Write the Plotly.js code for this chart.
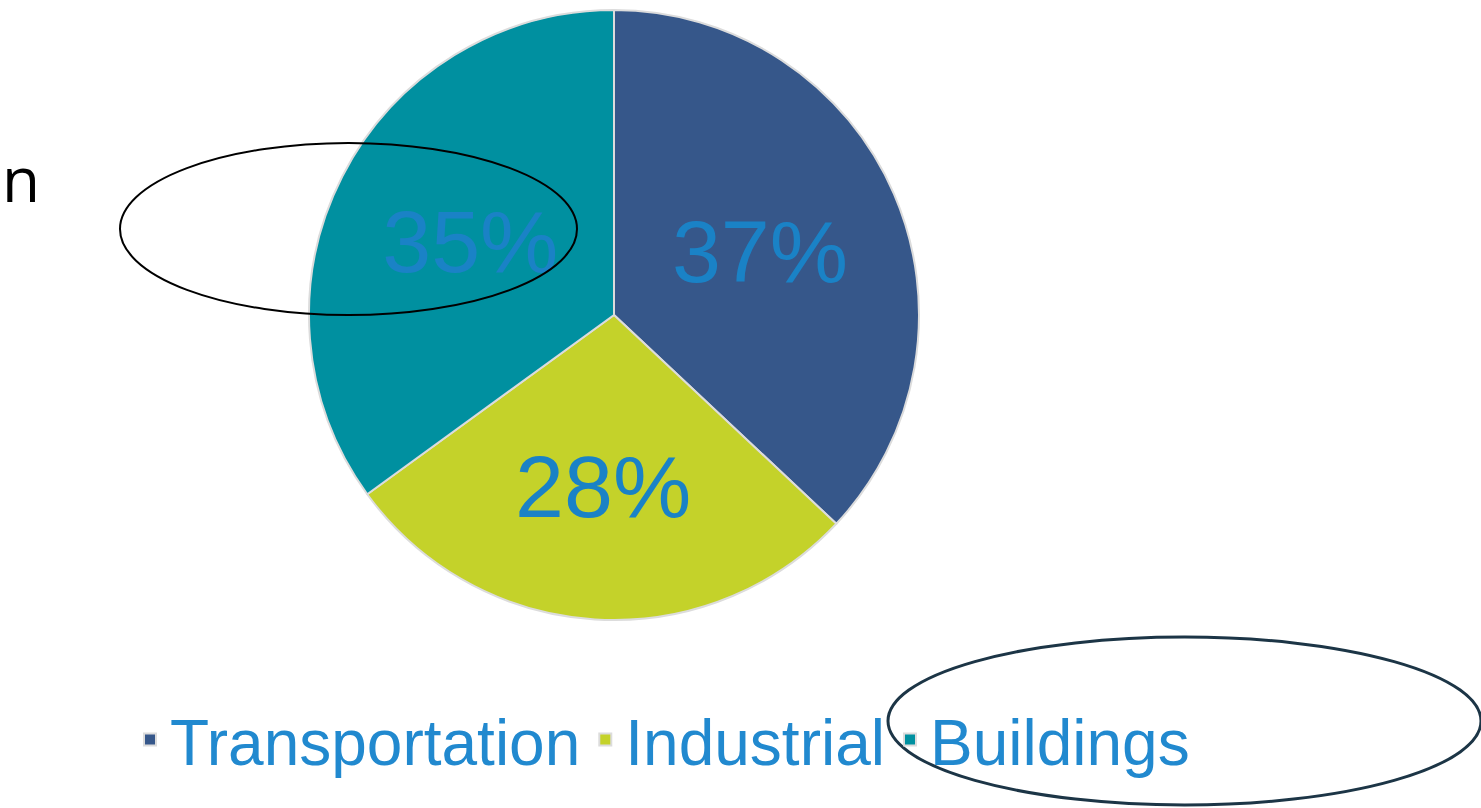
<!DOCTYPE html>
<html>
<head>
<meta charset="utf-8">
<script src="https://cdn.plot.ly/plotly-3.0.1.min.js"></script>
<style>html,body{margin:0;padding:0;background:#fff;}#chart{width:1481px;height:808px;}</style>
</head>
<body>
<div id="chart"></div>
<script>
const categories = ["Transportation", "Industrial", "Buildings"];
const shares = [37, 28, 35];
const sliceColors = ["#36578a", "#c4d22a", "#0090a0"];

const W = 1481, H = 808;
const px = (x) => x / W;
const py = (y) => 1 - y / H;

const trace = {
  type: "pie",
  labels: categories,
  values: shares,
  sort: false,
  direction: "clockwise",
  rotation: 0,
  textinfo: "percent",
  texttemplate: "%{percent:.0%}",
  textposition: "inside",
  insidetextorientation: "horizontal",
  insidetextfont: {family: "Liberation Sans, Arial, sans-serif", size: 88, color: "#1a82c6"},
  marker: {colors: sliceColors, line: {color: "#dcdcdc", width: 2}},
  domain: {x: [px(309), px(919)], y: [py(620), py(10)]},
  hoverinfo: "label+percent"
};

const layout = {
  width: W, height: H,
  margin: {l: 0, r: 0, t: 0, b: 0},
  paper_bgcolor: "#ffffff",
  showlegend: true,
  legend: {
    orientation: "h",
    x: px(130), xanchor: "left",
    y: py(740), yanchor: "middle",
    bgcolor: "rgba(0,0,0,0)",
    font: {family: "Liberation Sans, Arial, sans-serif", size: 64, color: "#2189cf"},
    itemsizing: "constant",
    traceorder: "normal"
  },
  annotations: [{
    xref: "paper", yref: "paper",
    x: 0, y: py(178), xanchor: "left", yanchor: "middle",
    text: "n", showarrow: false,
    font: {family: "Open Sans, DejaVu Sans, sans-serif", size: 62, color: "#000000"}
  }],
  shapes: [
    {type: "circle", xref: "paper", yref: "paper",
     x0: px(120), x1: px(577), y0: py(315), y1: py(143),
     line: {color: "#000000", width: 2}},
    {type: "circle", xref: "paper", yref: "paper",
     x0: px(888), x1: px(1481), y0: py(805), y1: py(637),
     line: {color: "#1c3546", width: 3}}
  ]
};

Plotly.newPlot("chart", [trace], layout, {displayModeBar: false, staticPlot: true});
</script>
</body>
</html>
